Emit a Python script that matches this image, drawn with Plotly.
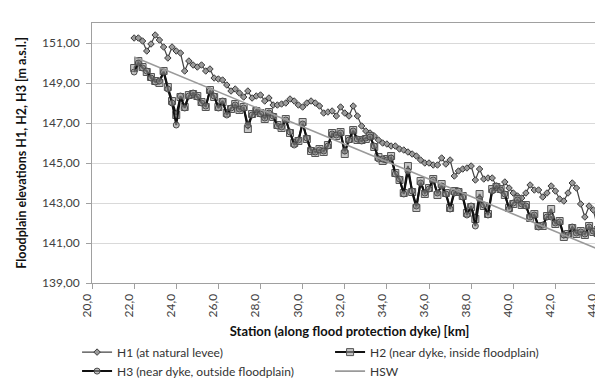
import plotly.graph_objects as go

station = [round(22.0 + 0.2 * i, 1) for i in range(111)]

h1 = [151.25, 151.25, 151.1, 150.6, 150.95, 151.4, 151.15, 150.8, 150.25, 150.8,
      150.6, 150.5, 149.6, 150.1, 149.9, 149.8, 149.9, 149.6, 149.7, 149.25,
      149.2, 149.15, 148.9, 148.6, 148.7, 148.5, 148.3, 148.6, 148.25, 148.35,
      148.4, 148.1, 148.25, 147.9, 147.9, 147.95, 148.0, 148.2, 148.1, 147.9,
      147.8, 148.0, 148.1, 148.0, 147.85, 147.5, 147.55, 147.6, 147.35, 147.8,
      147.5, 147.35, 147.85, 147.35, 146.85, 146.6, 146.5, 146.35, 146.15, 146.0,
      145.95, 145.85, 145.85, 145.7, 145.65, 145.55, 145.45, 145.35, 145.15, 145.0,
      145.0, 144.9, 144.9, 145.25, 144.95, 145.15, 144.35, 144.6, 144.7, 144.75,
      144.85, 144.15, 144.7, 144.2, 144.25, 144.25, 143.85, 143.65, 144.05, 143.75,
      143.5, 143.35, 143.25, 143.5, 143.9, 143.65, 143.65, 143.3, 143.5, 143.85,
      143.6, 143.2, 143.1, 143.5, 144.0, 143.75, 142.95, 142.3, 142.85, 142.65,
      141.8]

h2 = [149.75, 150.1, 149.8, 149.55, 149.3, 149.1, 149.0, 149.6, 148.8, 148.1,
      147.4, 148.3, 147.8, 148.4, 148.45, 148.35, 148.05, 147.8, 148.65, 148.3,
      147.8, 148.05, 147.5, 147.7, 147.95, 147.65, 147.8, 146.7, 147.45, 147.6,
      147.5, 147.2, 147.55, 147.3, 146.9, 146.75, 147.2, 146.5, 146.0, 146.1,
      147.05, 146.2, 145.6, 145.5, 145.7, 145.55, 145.9, 146.5, 146.35, 146.55,
      145.45, 146.2, 146.65, 146.15, 146.15, 146.2, 146.35, 145.8, 145.3, 145.1,
      145.2, 145.35, 144.5, 144.15, 143.5, 144.85, 143.55, 142.75, 144.1, 143.45,
      143.75, 144.2, 143.4, 143.95, 143.5, 142.75, 143.6, 143.55, 143.35, 142.5,
      142.8, 142.2, 143.45, 142.85, 142.45, 143.7, 143.8, 143.7, 143.4, 142.75,
      142.95, 143.2, 142.9, 142.9, 142.25, 142.45, 141.85, 141.85, 142.35, 142.7,
      141.95, 142.1, 141.3, 141.45, 141.75, 141.45, 141.6, 141.4, 141.85, 141.55,
      141.5]

h3 = [149.55, 150.0, 149.75, 149.6, 149.25, 149.05, 149.1, 149.55, 148.7, 148.0,
      146.9, 148.35, 147.75, 148.35, 148.5, 148.3, 148.0, 147.85, 148.6, 148.35,
      147.75, 148.1, 147.4, 147.75, 147.9, 147.7, 147.75, 146.9, 147.4, 147.65,
      147.45, 147.25, 147.5, 147.35, 146.85, 146.8, 147.15, 146.55, 145.9, 146.15,
      146.95, 146.25, 145.65, 145.55, 145.65, 145.6, 145.85, 146.45, 146.4, 146.5,
      145.6, 146.15, 146.6, 146.2, 146.1, 146.25, 146.3, 145.85, 145.2, 145.2,
      145.15, 145.25, 144.45, 144.2, 143.45, 144.6, 143.6, 142.85, 144.0, 143.5,
      143.7, 144.15, 143.5, 143.85, 143.45, 142.7, 143.5, 143.6, 143.3, 142.4,
      142.85, 141.85, 143.2, 142.9, 142.4, 143.6, 143.85, 143.65, 143.45, 142.7,
      143.0, 143.15, 142.95, 142.85, 142.3, 142.4, 141.8, 141.9, 142.3, 142.3,
      142.0, 142.05, 141.4, 141.4, 141.8, 141.5, 141.55, 141.45, 141.8, 141.6,
      141.4]

hsw_station = [22.0, 44.0]
hsw = [150.3, 140.7]

font_family = "Lato, 'Open Sans', sans-serif"

fig = go.Figure()
fig.add_trace(go.Scatter(
    x=station, y=h1, mode="lines+markers", name="H1 (at natural levee)",
    line=dict(color="#444444", width=1.2),
    marker=dict(symbol="diamond", size=5, color="#9a9a9a",
                line=dict(color="#3a3a3a", width=1))))
fig.add_trace(go.Scatter(
    x=station, y=h2, mode="lines+markers", name="H2 (near dyke, inside floodplain)",
    line=dict(color="#111111", width=2),
    marker=dict(symbol="square", size=7, color="rgba(160,160,160,0.6)",
                line=dict(color="#555555", width=1))))
fig.add_trace(go.Scatter(
    x=station, y=h3, mode="lines+markers", name="H3 (near dyke, outside floodplain)",
    line=dict(color="#111111", width=2),
    marker=dict(symbol="circle", size=6, color="rgba(150,150,150,0.6)",
                line=dict(color="#4a4a4a", width=1))))
fig.add_trace(go.Scatter(
    x=hsw_station, y=hsw, mode="lines", name="HSW",
    line=dict(color="#9a9a9a", width=1.6)))

fig.update_layout(
    width=603, height=378,
    margin=dict(l=84, r=4, t=15, b=103, autoexpand=False),
    paper_bgcolor="white", plot_bgcolor="white",
    separators=",.",
    font=dict(family=font_family, size=12, color="#333333"),
    showlegend=True,
    legend=dict(orientation="h", x=-0.029, xanchor="left", y=-0.21, yanchor="top",
                entrywidth=208, entrywidthmode="pixels",
                font=dict(size=12, color="#333333"), tracegroupgap=0,
                itemwidth=30, bgcolor="rgba(0,0,0,0)"),
)
fig.update_xaxes(
    range=[20, 44.45], tick0=20, dtick=2, tickformat=".1f", tickangle=-90,
    showgrid=False, showline=True, linecolor="#a0a0a0", linewidth=1, mirror=True,
    ticks="outside", ticklen=5, tickcolor="#a0a0a0", zeroline=False,
    automargin=False, ticklabelshift=-5,
    tickfont=dict(size=12, color="#404040"),
    title=dict(text="<b>Station (along flood protection dyke) [km]</b>",
               font=dict(size=13, color="#111111"), standoff=10))
fig.update_yaxes(
    range=[139, 152], tick0=139, dtick=2, tickformat=".2f",
    showgrid=True, gridcolor="#d9d9d9", gridwidth=1,
    showline=True, linecolor="#a0a0a0", linewidth=1, mirror=True,
    ticks="outside", ticklen=5, tickcolor="#a0a0a0", zeroline=False,
    automargin=False, ticklabelstandoff=4,
    tickfont=dict(size=12, color="#404040"),
    title=dict(text="<b>Floodplain elevations H1, H2, H3 [m a.s.l.]</b>",
               font=dict(size=12.5, color="#111111"), standoff=12))

fig.write_html("out.html")
